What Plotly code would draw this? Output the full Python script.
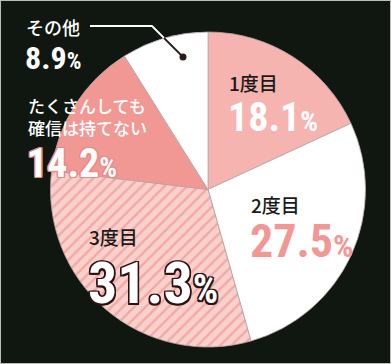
import plotly.graph_objects as go

labels = ["1度目", "2度目", "3度目", "たくさんしても<br>確信は持てない", "その他"]
values = [18.1, 27.5, 31.3, 14.2, 8.9]
colors = ["#f5b4af", "#ffffff", "#fad0cc", "#f19895", "#ffffff"]
patterns = ["", "", "/", "", ""]

W, H = 391, 364
def px(x): return x / W
def py(y): return 1 - y / H

cx, cy, r = 208, 189.5, 157.5

fig = go.Figure(go.Pie(
    labels=labels, values=values, sort=False, direction="clockwise", rotation=0,
    textinfo="none", hoverinfo="label+percent",
    marker=dict(colors=colors, line=dict(color="#b8a8a8", width=0.8),
                pattern=dict(shape=patterns, fgcolor="#f2a9a4", bgcolor=colors,
                             size=8, solidity=0.3)),
    domain=dict(x=[px(cx - r), px(cx + r)], y=[py(cy + r), py(cy - r)]),
    showlegend=False,
))

NUM = "Roboto Condensed"
JP = "Noto Sans CJK JP"

def pct(v, psize):
    return f"{v}<span style='font-size:{psize}px'>%</span>"

def stroke(c, w=1.5):
    return ", ".join(f"{dx}px {dy}px 0 {c}" for dx, dy in
                     [(-w, -w), (w, -w), (-w, w), (w, w), (0, w), (0, -w), (w, 0), (-w, 0)])

ann = []
# (index, x, y_label, label color, label size, label weight, y_value, value color, value size, pct size, shadow)
specs = [
    (0, 227, 83, "#1a1a1a", 19, 500, 118, "#ffffff", 40, 28, None),
    (1, 249, 204, "#1a1a1a", 19, 500, 241, "#f19895", 46, 32, None),
    (2, 87, 236, "#1a1a1a", 19, 500, 283, "#ffffff", 58, 40, stroke("#2a1212")),
    (3, 26, 116.5, "#ffffff", 17, 500, 164, "#ffffff", 40, 28, stroke("#e88a86", 1.2)),
    (4, 24, 27, "#ffffff", 18, 500, 58, "#ffffff", 32, 23, None),
]
for i, x, yl, lc, ls, lw, yv, vc, vs, ps, sh in specs:
    ann.append(dict(x=px(x), y=py(yl), xref="paper", yref="paper", xanchor="left", yanchor="middle",
                    text=labels[i], showarrow=False, align="left",
                    font=dict(family=JP, size=ls, color=lc, weight=lw)))
    f = dict(family=NUM, size=vs, color=vc, weight="bold")
    if sh:
        f["shadow"] = sh
    ann.append(dict(x=px(x - 1), y=py(yv), xref="paper", yref="paper", xanchor="left", yanchor="middle",
                    text=pct(values[i], ps), showarrow=False, font=f))

shapes = [
    dict(type="path", xref="paper", yref="paper",
         path=f"M {px(90)} {py(26)} L {px(152)} {py(26)} L {px(164)} {py(38)}",
         line=dict(color="#ffffff", width=1.8)),
    dict(type="line", xref="paper", yref="paper", x0=px(164), y0=py(38), x1=px(183), y1=py(57),
         line=dict(color="#2a1a1a", width=1.8)),
    dict(type="circle", xref="paper", yref="paper", x0=px(179.5), y0=py(53.5), x1=px(186.5), y1=py(60.5),
         fillcolor="#2a1a1a", line=dict(width=0)),
    dict(type="rect", xref="paper", yref="paper", x0=0, y0=0, x1=1, y1=1,
         line=dict(color="#bdbdbd", width=2), layer="above"),
]

fig.update_layout(width=W, height=H, margin=dict(l=0, r=0, t=0, b=0),
                  paper_bgcolor="#0f1710", plot_bgcolor="#0f1710",
                  annotations=ann, shapes=shapes)
fig.write_html("out.html", config={"displayModeBar": False},
               post_script="document.body.style.margin='0px';document.body.style.overflow='hidden';")
